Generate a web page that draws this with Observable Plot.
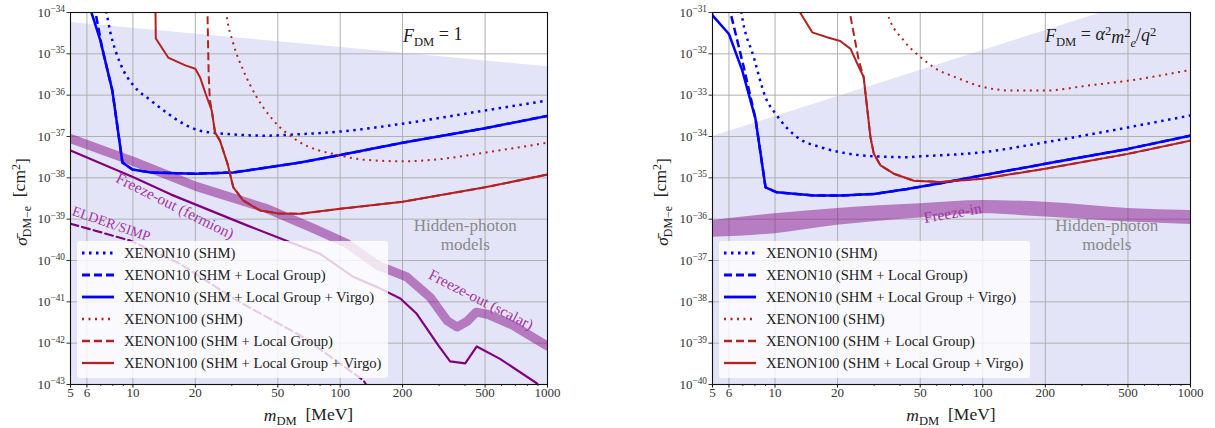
<!DOCTYPE html>
<html><head><meta charset="utf-8">
<script src="https://cdn.jsdelivr.net/npm/d3@7"></script>
<script src="https://cdn.jsdelivr.net/npm/@observablehq/plot@0.6"></script>
<style>
body{margin:0;background:#fff;}
#wrap{position:relative;width:1215px;height:428px;font-family:"Liberation Serif","DejaVu Serif",serif;overflow:hidden;}
.panel{position:absolute;top:0;}
.legend{position:absolute;background:rgba(255,255,255,0.8);border-radius:3px;}
.legend .row{position:absolute;left:0;height:22px;display:flex;align-items:center;white-space:nowrap;font-size:14.7px;color:#222;}
.legend .row svg{margin-left:5px;margin-right:10px;}
</style></head><body><div id="wrap"></div>
<script>
// ---------- data ----------
const massTicks = [5, 6, 10, 20, 50, 100, 200, 500, 1000];
const massMinorTicks = [7, 8, 9, 30, 40, 60, 70, 80, 90, 300, 400, 600, 700, 800, 900];
const massGrid = [6, 10, 20, 50, 100, 200, 500];
const legendLabels = ["XENON10 (SHM)", "XENON10 (SHM + Local Group)", "XENON10 (SHM + Local Group + Virgo)",
  "XENON100 (SHM)", "XENON100 (SHM + Local Group)", "XENON100 (SHM + Local Group + Virgo)"];

// Left panel: F_DM = 1  (mass MeV, log10 sigma)
const leftDecades = [-43, -34];
const hiddenPhotonL = [[5, -34.24], [1000, -35.31]];
const xe10ShmL = [[7.3,-33.8],[7.45,-34],[7.8,-34.5],[8.24,-34.92],[9.0,-35.4],[10,-35.75],[12.2,-36.13],[14.7,-36.44],[17.5,-36.69],[21.1,-36.86],[30.5,-36.95],[44.5,-36.98],[60,-36.95],[100,-36.88],[200,-36.69],[500,-36.37],[1000,-36.13]];
const xe10LgL = [[6.5,-33.8],[6.6,-34],[7.1,-34.85],[7.96,-35.89],[8.9,-37.63],[9.95,-37.8],[12.2,-37.87],[20,-37.9],[30.5,-37.87],[44.5,-37.75],[64,-37.63],[100,-37.45],[200,-37.15],[500,-36.8],[1000,-36.5]];
const xe10VirL = [[6.2,-33.8],[6.31,-34],[6.97,-34.68],[7.96,-35.89],[8.9,-37.63],[9.95,-37.8],[12.2,-37.87],[20,-37.9],[30.5,-37.87],[44.5,-37.75],[64,-37.63],[100,-37.45],[200,-37.15],[500,-36.8],[1000,-36.5]];
const xe100ShmL = [[27.9,-33.8],[28.2,-34],[30.5,-34.75],[34.1,-35.4],[39.7,-36.06],[47.6,-36.61],[62.1,-37.1],[100,-37.46],[129,-37.56],[200,-37.6],[300,-37.55],[500,-37.39],[1000,-37.15]];
const xe100LgL = [[22.8,-33.8],[22.9,-34],[23.2,-35.5],[23.5,-36.1],[24.0,-36.37],[24.9,-36.9],[26.3,-37.1],[28.6,-37.66],[30.5,-38.23],[34.1,-38.55],[41.1,-38.79],[50,-38.86],[64,-38.87],[100,-38.75],[200,-38.58],[500,-38.23],[1000,-37.92]];
const xe100VirL = [[12.84,-33.8],[12.85,-34],[12.9,-34.63],[14.8,-35.09],[17.9,-35.28],[20,-35.36],[21.1,-35.57],[22.4,-35.96],[24.0,-36.37],[24.9,-36.9],[26.3,-37.1],[28.6,-37.66],[30.5,-38.23],[34.1,-38.55],[41.1,-38.79],[50,-38.86],[64,-38.87],[100,-38.75],[200,-38.58],[500,-38.23],[1000,-37.92]];
const freezeOutScalar = [[5,-37.05],[10,-37.6],[20,-38.2],[44.5,-38.75],[74,-39.22],[108,-39.59],[152,-40.12],[210,-40.4],[272,-40.89],[327,-41.45],[366,-41.61],[410,-41.47],[453,-41.25],[512,-41.3],[682,-41.57],[1000,-42.07]];
const freezeOutFermion = [[5,-37.34],[10,-37.98],[15.2,-38.4],[35.5,-39.15],[55,-39.52],[80,-39.84],[116,-40.4],[152,-40.65],[195,-40.92],[234,-41.29],[298,-42.06],[339,-42.44],[401,-42.49],[456,-42.08],[590,-42.38],[887,-42.97],[930,-43.1]];
const elderSimp = [[5,-39.11],[9.73,-39.52],[16.9,-40.08],[31.8,-40.97],[66.6,-41.86],[129.5,-42.9],[135,-43.05]];
const labelsL = [
  {text: "Freeze-out (fermion)", m: 16.0, e: -38.67, rotate: 26.5, size: 15.5, color: "#a3359f"},
  {text: "ELDER/SIMP", m: 7.88, e: -39.1, rotate: 19, size: 14, color: "#a3359f"},
  {text: "Freeze-out (scalar)", m: 479, e: -40.94, rotate: 27, size: 15.3, color: "#a3359f"},
  {text: "Hidden-photon\nmodels", m: 401, e: -39.37, rotate: 0, size: 17, color: "#8a8a8a"}
];

// Right panel: F_DM = alpha^2 m_e^2 / q^2
const rightDecades = [-40, -31];
const hiddenPhotonR = [[5, -34], [1000, -30.32]];
const xe10ShmR = [[6.8,-30.8],[6.89,-31],[7.9,-32.08],[9.0,-33.05],[10.2,-33.49],[12.8,-34.02],[16.6,-34.26],[20.6,-34.38],[29.9,-34.48],[43.3,-34.5],[50.2,-34.48],[100,-34.38],[200,-34.14],[500,-33.78],[1000,-33.49]];
const xe10LgR = [[6.05,-30.8],[6.1,-31],[7.07,-32.32],[8.05,-33.57],[9.0,-35.23],[10.2,-35.35],[15.4,-35.43],[20.6,-35.43],[29.9,-35.39],[43.3,-35.27],[62.6,-35.13],[100,-34.94],[200,-34.66],[500,-34.3],[1000,-33.98]];
const xe10VirR = [[4.9,-30.9],[5,-31.07],[6.0,-31.52],[6.95,-32.4],[8.05,-33.57],[9.0,-35.23],[10.2,-35.35],[15.4,-35.43],[20.6,-35.43],[29.9,-35.39],[43.3,-35.27],[62.6,-35.13],[100,-34.94],[200,-34.66],[500,-34.3],[1000,-33.98]];
const xe100ShmR = [[34,-30.8],[34.7,-31],[41.7,-31.68],[50.2,-32.08],[60.4,-32.38],[72.6,-32.55],[100,-32.8],[141,-32.89],[200,-32.89],[318,-32.77],[500,-32.65],[1000,-32.39]];
const xe100LgR = [[22.8,-30.8],[22.9,-31],[25.3,-32.16],[26.7,-32.56],[28.8,-34.02],[29.9,-34.42],[32.2,-34.7],[37.3,-34.9],[46.6,-35.07],[62.6,-35.1],[100,-35.02],[200,-34.78],[500,-34.42],[1000,-34.1]];
const xe100VirR = [[13,-30.8],[13.2,-31],[15.1,-31.48],[17.8,-31.6],[20.6,-31.69],[23.1,-31.88],[24.9,-32.24],[26.7,-32.56],[28.8,-34.02],[29.9,-34.42],[32.2,-34.7],[37.3,-34.9],[46.6,-35.07],[62.6,-35.1],[100,-35.02],[200,-34.78],[500,-34.42],[1000,-34.1]];
const freezeInMass = [5, 10, 20, 50, 100, 200, 500, 1000];
const freezeInLow = [-36.44, -36.35, -36.15, -35.97, -35.87, -35.95, -36.07, -36.13];
const freezeInHigh = [-36.03, -35.87, -35.74, -35.63, -35.55, -35.59, -35.74, -35.79];
const labelsR = [
  {text: "Freeze-in", m: 71.6, e: -35.84, rotate: -10, size: 15.5, color: "#a3359f"},
  {text: "Hidden-photon\nmodels", m: 395, e: -36.37, rotate: 0, size: 17, color: "#8a8a8a"}
];

// ---------- styles ----------
const BLUE = "#0000ff", RED = "#b22222", PURPLE = "#800080";
const FONT = '"Liberation Serif", "DejaVu Serif", serif';
const seriesStyles = [
  {stroke: BLUE, width: 2.5, dash: "2.5,4.5"},
  {stroke: BLUE, width: 2.5, dash: "8,4"},
  {stroke: BLUE, width: 2.5, dash: null},
  {stroke: RED, width: 2, dash: "2,4.5"},
  {stroke: RED, width: 2, dash: "8,4"},
  {stroke: RED, width: 2, dash: null}
];
const rows = (pairs) => pairs.map(([m, e]) => ({m, s: 10 ** e}));
const FRAME_H = 428 - 12 - 44;

function makePanel(cfg) {
  const lo = 10 ** cfg.decades[0], hi = 10 ** cfg.decades[1];
  const yTicks = d3.range(cfg.decades[0], cfg.decades[1] + 1).map(e => 10 ** e);
  const shade = rows(cfg.hidden);
  const marks = [
    Plot.areaY(shade, {x: "m", y1: () => lo, y2: "s", fill: "#e4e4f8", clip: true}),
    Plot.gridX(massGrid, {stroke: "#b0b0b0", strokeOpacity: 1, strokeWidth: 1}),
    Plot.gridY(yTicks, {stroke: "#b0b0b0", strokeOpacity: 1, strokeWidth: 1}),
    ...cfg.purple,
    Plot.text(cfg.labels, {x: "m", y: d => 10 ** d.e, text: "text", rotate: "rotate", fontSize: "size", fill: "color", lineHeight: 1.12, fontFamily: FONT}),
  ];
  cfg.series.forEach((s, i) => {
    const st = seriesStyles[i];
    marks.push(Plot.line(rows(s), {x: "m", y: "s", stroke: st.stroke, strokeWidth: st.width,
      strokeDasharray: st.dash || undefined, strokeLinecap: "butt", strokeLinejoin: "round",
      curve: st.dash && st.dash.startsWith("2") ? "monotone-x" : "linear", clip: true}));
  });
  marks.push(
    Plot.frame({stroke: "#111", strokeWidth: 1.1}),
    Plot.axisY(yTicks, {anchor: "left", tickSize: 3.5, tickPadding: 2, label: null,
      tickFormat: v => "10^" + Math.round(Math.log10(v)), fontSize: 13}),
    // x ticks and labels drawn explicitly
    Plot.tickX(massTicks, {x: d => d, insetTop: FRAME_H - 3.5, dy: 3.5, stroke: "#111", strokeWidth: 1}),
    Plot.tickX(massMinorTicks, {x: d => d, insetTop: FRAME_H - 2, dy: 2, stroke: "#111", strokeWidth: 0.8}),
    Plot.text(massTicks, {x: d => d, text: d => String(d), frameAnchor: "bottom", dy: 12, fontSize: 13, fill: "#333", fontFamily: FONT})
  );
  const plot = Plot.plot({
    width: cfg.width, height: 428,
    marginLeft: cfg.ml, marginRight: cfg.mr, marginTop: 12, marginBottom: 44,
    x: {type: "log", domain: [5, 1000], axis: null},
    y: {type: "log", domain: [lo, hi]},
    style: {fontFamily: FONT, fontSize: "13px", color: "#333", background: "transparent", overflow: "visible"},
    marks
  });
  plot.classList.add("panel");
  plot.style.left = cfg.left + "px";
  // superscript tick labels
  d3.select(plot).selectAll('g[aria-label="y-axis tick label"] text').each(function () {
    const m = this.textContent.match(/^10\^(.*)$/);
    if (!m) return;
    this.textContent = "";
    const t = d3.select(this);
    t.append("tspan").text("10");
    t.append("tspan").attr("dy", "-0.5em").attr("font-size", "0.72em").text(m[1].replace("-", "\u2212"));
  });
  const svg = d3.select(plot);
  const xs = plot.scale("x");
  const cx = (xs.apply(5) + xs.apply(1000)) / 2;
  // x label
  const xl = svg.append("text").attr("x", cx).attr("y", 421).attr("text-anchor", "middle")
    .attr("font-size", 17.5).attr("fill", "#222").attr("font-family", FONT);
  xl.append("tspan").attr("font-style", "italic").text("m");
  xl.append("tspan").attr("dy", "0.28em").attr("font-size", "0.72em").text("DM");
  xl.append("tspan").attr("dy", "-0.28em").text("\u2002[MeV]");
  // y label
  const yl = svg.append("text").attr("transform", `translate(${cfg.ylx},202) rotate(-90)`)
    .attr("text-anchor", "middle").attr("font-size", 17.5).attr("fill", "#222").attr("font-family", FONT);
  yl.append("tspan").attr("font-style", "italic").text("\u03c3\u0304");
  yl.append("tspan").attr("dy", "0.3em").attr("font-size", "0.68em").text("DM\u2212e");
  yl.append("tspan").attr("dy", "-0.3em").text("\u2002[cm");
  yl.append("tspan").attr("dy", "-0.45em").attr("font-size", "0.68em").text("2");
  yl.append("tspan").attr("dy", "0.45em").text("]");
  // form-factor annotation
  const fa = svg.append("text").attr("x", cfg.fx).attr("y", 42).attr("text-anchor", "start")
    .attr("font-size", 18).attr("fill", "#222").attr("font-family", FONT);
  cfg.formula(fa);
  return plot;
}

function legend(left) {
  const box = document.createElement("div");
  box.className = "legend";
  Object.assign(box.style, {left: left + "px", top: "241px", width: "311px", height: "137px"});
  legendLabels.forEach((lab, i) => {
    const st = seriesStyles[i];
    const row = document.createElement("div");
    row.className = "row";
    row.style.top = (1.3 + i * 22) + "px";
    row.innerHTML = `<svg width="32" height="10"><line x1="0" x2="32" y1="5" y2="5" stroke="${st.stroke}" stroke-width="${st.width + 0.3}" ${st.dash ? `stroke-dasharray="${st.dash}"` : ""}/></svg><span>${lab}</span>`;
    box.appendChild(row);
  });
  return box;
}

const wrap = document.getElementById("wrap");
const band = (pairs) => Plot.line(rows(pairs), {x: "m", y: "s", stroke: PURPLE, strokeOpacity: 0.47, strokeWidth: 9, strokeLinejoin: "round", clip: true});
const freezeRows = freezeInMass.map((m, i) => ({m, lo: 10 ** freezeInLow[i], hi: 10 ** freezeInHigh[i]}));

wrap.appendChild(makePanel({
  width: 560, ml: 70, mr: 13, left: 0, decades: leftDecades, hidden: hiddenPhotonL,
  series: [xe10ShmL, xe10LgL, xe10VirL, xe100ShmL, xe100LgL, xe100VirL],
  purple: [
    band(freezeOutScalar),
    Plot.line(rows(freezeOutFermion), {x: "m", y: "s", stroke: PURPLE, strokeWidth: 2.2, clip: true}),
    Plot.line(rows(elderSimp), {x: "m", y: "s", stroke: PURPLE, strokeWidth: 2.2, strokeDasharray: "8,4", clip: true})
  ],
  labels: labelsL, ylx: 27, fx: 403,
  formula: (t) => {
    t.append("tspan").attr("font-style", "italic").text("F");
    t.append("tspan").attr("dy", "0.28em").attr("font-size", "0.7em").text("DM");
    t.append("tspan").attr("dy", "-0.28em").text(" = 1");
  }
}));
wrap.appendChild(makePanel({
  width: 575, ml: 72, mr: 25, left: 640, decades: rightDecades, hidden: hiddenPhotonR,
  series: [xe10ShmR, xe10LgR, xe10VirR, xe100ShmR, xe100LgR, xe100VirR],
  purple: [
    Plot.areaY(freezeRows, {x: "m", y1: "lo", y2: "hi", fill: PURPLE, fillOpacity: 0.45, curve: "monotone-x", clip: true})
  ],
  labels: labelsR, ylx: 28, fx: 405,
  formula: (t) => {
    t.append("tspan").attr("font-style", "italic").text("F");
    t.append("tspan").attr("dy", "0.28em").attr("font-size", "0.7em").text("DM");
    t.append("tspan").attr("dy", "-0.28em").text(" = ");
    t.append("tspan").attr("font-style", "italic").text("\u03b1");
    t.append("tspan").attr("dy", "-0.45em").attr("font-size", "0.7em").text("2");
    t.append("tspan").attr("dy", "0.45em").attr("font-style", "italic").text("m");
    t.append("tspan").attr("dy", "-0.45em").attr("font-size", "0.7em").text("2");
    t.append("tspan").attr("dy", "0.75em").attr("font-size", "0.7em").attr("font-style", "italic").text("e");
    t.append("tspan").attr("dy", "-0.3em").text("/");
    t.append("tspan").attr("font-style", "italic").text("q");
    t.append("tspan").attr("dy", "-0.45em").attr("font-size", "0.7em").text("2");
  }
}));
wrap.appendChild(legend(77));
wrap.appendChild(legend(719));
</script></body></html>
